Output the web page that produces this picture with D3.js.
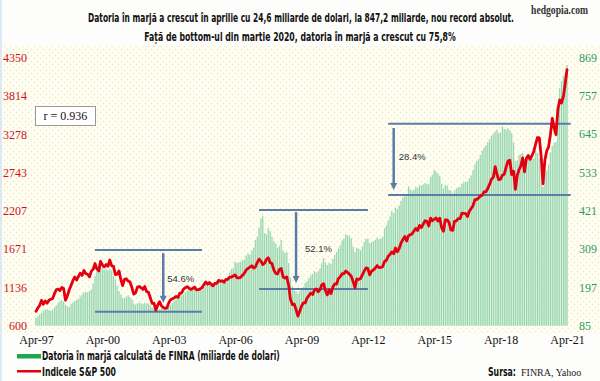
<!DOCTYPE html>
<html>
<head>
<meta charset="utf-8">
<script src="https://cdn.jsdelivr.net/npm/d3@7"></script>
<style>
  body { margin: 0; background: #fff; }
  svg { display: block; }
</style>
</head>
<body>
<svg id="chart" width="600" height="381"></svg>
<script>
// margin debt, billions $, monthly from Apr-97 to Apr-21 (one row per year)
const marginDebt = [
  108, 112, 118, 122, 128, 132, 134, 131, 128,
  132, 138, 145, 152, 157, 160, 155, 146, 142, 140, 148, 152,
  157, 160, 163, 170, 176, 182, 184, 182, 186, 190, 208, 230,
  246, 266, 278, 258, 248, 250, 247, 252, 246, 230, 220, 202,
  186, 176, 166, 164, 170, 174, 168, 162, 150, 146, 150, 152,
  150, 148, 152, 150, 150, 146, 138, 136, 134, 130, 134, 136,
  136, 132, 135, 142, 146, 152, 158, 162, 164, 170, 174, 176,
  182, 188, 192, 192, 190, 196, 190, 188, 190, 190, 198, 206,
  206, 204, 204, 200, 206, 210, 214, 216, 220, 216, 222, 228,
  240, 250, 252, 272, 268, 270, 272, 276, 278, 290, 296, 292,
  304, 312, 336, 345, 372, 398, 405, 356, 352, 370, 362, 345,
  332, 325, 312, 318, 336, 305, 298, 300, 268, 226, 200, 188,
  186, 178, 186, 192, 198, 210, 216, 224, 232, 236, 244, 240,
  244, 252, 268, 282, 270, 262, 268, 266, 280, 292, 300, 310,
  320, 334, 340, 352, 350, 346, 340, 316, 300, 312, 310, 306,
  316, 330, 338, 340, 326, 330, 332, 336, 342, 338, 340, 345,
  370, 378, 392, 404, 420, 414, 430, 426, 436, 450, 460, 470,
  468, 492, 484, 478, 482, 492, 488, 496, 494, 498, 502, 500,
  498, 520, 526, 540, 536, 530, 522, 500, 486, 496, 494, 482,
  480, 472, 480, 486, 490, 490, 500, 504, 506, 506, 516, 524,
  540, 556, 566, 572, 584, 596, 606, 612, 622, 630, 640, 646,
  652, 658, 648, 650, 668, 660, 658, 662, 656, 648, 620, 566,
  568, 584, 586, 590, 572, 580, 578, 574, 572, 574, 596, 590,
  574, 556, 490, 532, 538, 556, 592, 610, 620, 622, 726, 780,
  800, 814, 823, 847
];

// S&P 500 month-end close, same months
const sp500 = [
  801, 848, 885, 954, 899, 947, 915, 955, 970,
  980, 1049, 1102, 1112, 1091, 1134, 1121, 957, 1017, 1099, 1164, 1229,
  1280, 1238, 1286, 1335, 1302, 1373, 1329, 1320, 1283, 1363, 1389, 1469,
  1394, 1366, 1499, 1452, 1421, 1455, 1431, 1518, 1437, 1429, 1315, 1320,
  1366, 1240, 1160, 1249, 1256, 1224, 1211, 1134, 1041, 1060, 1139, 1148,
  1130, 1107, 1147, 1077, 1067, 990, 912, 916, 815, 886, 936, 880,
  856, 841, 848, 917, 964, 975, 990, 1008, 996, 1051, 1058, 1112,
  1131, 1145, 1126, 1107, 1121, 1141, 1102, 1104, 1115, 1130, 1174, 1212,
  1181, 1204, 1181, 1157, 1192, 1191, 1234, 1220, 1229, 1207, 1249, 1248,
  1280, 1281, 1295, 1311, 1270, 1270, 1277, 1304, 1336, 1378, 1401, 1418,
  1438, 1407, 1421, 1482, 1531, 1503, 1455, 1474, 1527, 1549, 1481, 1468,
  1379, 1331, 1323, 1386, 1400, 1280, 1267, 1283, 1166, 969, 896, 903,
  826, 735, 798, 873, 919, 919, 987, 1021, 1057, 1036, 1096, 1115,
  1074, 1104, 1169, 1187, 1089, 1031, 1102, 1049, 1141, 1183, 1181, 1258,
  1286, 1327, 1326, 1364, 1345, 1321, 1292, 1219, 1131, 1253, 1247, 1258,
  1312, 1366, 1408, 1398, 1310, 1362, 1379, 1407, 1441, 1412, 1416, 1426,
  1498, 1515, 1569, 1598, 1631, 1606, 1686, 1633, 1682, 1757, 1806, 1848,
  1783, 1859, 1872, 1884, 1924, 1960, 1931, 2003, 1972, 2018, 2068, 2059,
  1995, 2105, 2068, 2086, 2107, 2063, 2104, 1972, 1920, 2079, 2080, 2044,
  1940, 1932, 2060, 2065, 2097, 2099, 2174, 2171, 2168, 2126, 2199, 2239,
  2279, 2364, 2363, 2384, 2412, 2423, 2470, 2472, 2519, 2575, 2648, 2674,
  2824, 2714, 2641, 2648, 2705, 2718, 2816, 2902, 2914, 2712, 2760, 2507,
  2704, 2784, 2834, 2946, 2752, 2942, 2980, 2926, 2977, 3038, 3141, 3231,
  3226, 2954, 2585, 2912, 3044, 3100, 3271, 3500, 3363, 3270, 3622, 3756,
  3714, 3811, 3973, 4181
];

const leftTicks = [600, 1136, 1671, 2207, 2743, 3278, 3814, 4350];
const rightTicks = [85, 197, 309, 421, 533, 645, 757, 869];
const xTickYears = [1997, 2000, 2003, 2006, 2009, 2012, 2015, 2018, 2021];

// drawdown brackets: [start, end] month, top/bottom in margin debt $bn
const brackets = [
  { from: [1999, 11], to: [2004, 9], top: 306, bottom: 126, arrow: [2002, 12], a0: 297, a1: 152, label: '54.6%', lv: 214, dx: 4 },
  { from: [2007, 4], to: [2012, 3], top: 423, bottom: 192, arrow: [2009, 0], a0: 417, a1: 210, label: '52.1%', lv: 299, dx: 9 },
  { from: [2013, 2], to: [2021, 5], top: 675, bottom: 467, arrow: [2013, 5], a0: 663, a1: 482, label: '28.4%', lv: 568, dx: 5 }
];

const months = d3.timeMonth.range(new Date(1997, 3, 1), new Date(2021, 4, 1));
const svg = d3.select('#chart');

const x = d3.scaleTime().domain([new Date(1997, 3, 1), new Date(2021, 3, 1)]).range([36, 567]);
const yL = d3.scaleLinear().domain([600, 4350]).range([325.7, 57.5]);
const yR = d3.scaleLinear().domain([85, 869]).range([325.7, 57.5]);

// squeeze a text horizontally to a given width (anchor: start/middle/end at x)
function fitText(sel, x0, y0, width, anchor) {
  sel.attr('text-anchor', anchor);
  const w = sel.node().getComputedTextLength();
  const k = Math.min(1, width / w);
  sel.attr('transform', `translate(${x0},${y0}) scale(${k},1)`);
  return sel;
}

// background + dotted pattern
const defs = svg.append('defs');
const pat = defs.append('pattern').attr('id', 'dots').attr('width', 6).attr('height', 6)
  .attr('patternUnits', 'userSpaceOnUse');
pat.append('rect').attr('width', 6).attr('height', 6).attr('fill', '#fffff6');
pat.append('circle').attr('cx', 1.5).attr('cy', 1.5).attr('r', 0.9).attr('fill', '#f4eec4');
pat.append('circle').attr('cx', 4.5).attr('cy', 4.5).attr('r', 0.9).attr('fill', '#f4eec4');

svg.append('rect').attr('width', 600).attr('height', 381).attr('fill', '#fdfdfb');
svg.append('rect').attr('x', 0).attr('y', 46).attr('width', 600).attr('height', 288).attr('fill', 'url(#dots)');
svg.append('rect').attr('x', 0).attr('y', 0).attr('width', 2).attr('height', 381).attr('fill', '#dde9f4');

// titles
const narrow = '"Liberation Sans Narrow", "DejaVu Sans Condensed", sans-serif';
const serif = '"Liberation Serif", "Times New Roman", serif';
fitText(svg.append('text').attr('font-family', narrow)
  .attr('font-weight', 'bold').attr('font-size', 12).attr('fill', '#111')
  .text('Datoria în marjă a crescut în aprilie cu 24,6 miliarde de dolari, la 847,2 miliarde, nou record absolut.'),
  301, 22, 426, 'middle');
fitText(svg.append('text').attr('font-family', narrow)
  .attr('font-weight', 'bold').attr('font-size', 12).attr('fill', '#111')
  .text('Față de bottom-ul din martie 2020, datoria în marjă a crescut cu 75,8%'),
  300, 41, 312, 'middle');
fitText(svg.append('text').attr('font-family', serif).attr('font-weight', 'bold')
  .attr('font-size', 11.5).attr('fill', '#333').text('hedgopia.com'),
  588, 14, 57, 'end');

// margin debt bars
const step = x(months[1]) - x(months[0]);
const bars = svg.append('g');
bars.selectAll('rect.bg').data(months).enter().append('rect')
  .attr('x', (d) => x(d) - step / 2)
  .attr('y', (d, i) => yR(marginDebt[i]))
  .attr('width', step)
  .attr('height', (d, i) => yR(85) - yR(marginDebt[i]))
  .attr('fill', '#d9f1de');
bars.selectAll('rect.fg').data(months).enter().append('rect')
  .attr('x', (d) => x(d) - 0.5)
  .attr('y', (d, i) => yR(marginDebt[i]))
  .attr('width', 1)
  .attr('height', (d, i) => yR(85) - yR(marginDebt[i]))
  .attr('fill', '#95d4aa');

// brackets + arrows
const blue = '#5b7ca6';
brackets.forEach((b) => {
  const x0 = x(new Date(b.from[0], b.from[1], 1));
  const x1 = x(new Date(b.to[0], b.to[1], 1));
  [b.top, b.bottom].forEach((v) => {
    svg.append('line').attr('x1', x0).attr('x2', x1).attr('y1', yR(v)).attr('y2', yR(v))
      .attr('stroke', blue).attr('stroke-width', 2);
  });
  const ax = x(new Date(b.arrow[0], b.arrow[1], 1));
  svg.append('line').attr('x1', ax).attr('x2', ax).attr('y1', yR(b.a0)).attr('y2', yR(b.a1) - 6)
    .attr('stroke', blue).attr('stroke-width', 2.5);
  svg.append('path')
    .attr('d', `M${ax - 3.5},${yR(b.a1) - 7} L${ax + 3.5},${yR(b.a1) - 7} L${ax},${yR(b.a1)} Z`)
    .attr('fill', blue);
  svg.append('text').attr('x', ax + b.dx).attr('y', yR(b.lv))
    .attr('font-family', '"Liberation Sans", Arial, sans-serif').attr('font-size', 9.5)
    .attr('fill', '#333').text(b.label);
});

// S&P line
const line = d3.line().x((d) => x(d)).y((d, i) => yL(sp500[i])).curve(d3.curveLinear);
svg.append('path').datum(months).attr('d', line)
  .attr('fill', 'none').attr('stroke', '#e4000f').attr('stroke-width', 2.8)
  .attr('stroke-linejoin', 'round').attr('stroke-linecap', 'round');

// axes
const gl = svg.append('g').attr('transform', 'translate(27,0)')
  .call(d3.axisLeft(yL).tickValues(leftTicks).tickSize(0).tickPadding(0).tickFormat(d3.format('d')));
gl.select('.domain').remove();
gl.selectAll('text').attr('font-family', serif).attr('font-size', 12).attr('fill', '#d0101e');

const gr = svg.append('g').attr('transform', 'translate(579,0)')
  .call(d3.axisRight(yR).tickValues(rightTicks).tickSize(0).tickPadding(0).tickFormat(d3.format('d')));
gr.select('.domain').remove();
gr.selectAll('text').attr('font-family', serif).attr('font-size', 12).attr('fill', '#2e9a5c');

const gx = svg.append('g').attr('transform', 'translate(0,335)')
  .call(d3.axisBottom(x).tickValues(xTickYears.map((yv) => new Date(yv, 3, 1)))
    .tickSize(0).tickPadding(0).tickFormat(d3.timeFormat('Apr-%y')));
gx.select('.domain').remove();
gx.selectAll('text').attr('font-family', serif).attr('font-size', 12).attr('fill', '#111');

// r box
svg.append('rect').attr('x', 35.5).attr('y', 106.5).attr('width', 60).attr('height', 19)
  .attr('fill', '#fff').attr('stroke', '#9a9a9a');
svg.append('text').attr('x', 65.5).attr('y', 120).attr('text-anchor', 'middle')
  .attr('font-family', serif).attr('font-size', 12).attr('fill', '#111').text('r = 0.936');

// legend
svg.append('rect').attr('x', 17).attr('y', 354).attr('width', 24).attr('height', 4.5).attr('fill', '#1fa64e');
fitText(svg.append('text').attr('font-family', narrow).attr('font-weight', 'bold')
  .attr('font-size', 12).attr('fill', '#111')
  .text('Datoria în marjă calculată de FINRA (miliarde de dolari)'), 42, 360, 238, 'start');
svg.append('rect').attr('x', 17).attr('y', 370).attr('width', 24).attr('height', 2.5).attr('fill', '#e4000f');
fitText(svg.append('text').attr('font-family', narrow).attr('font-weight', 'bold')
  .attr('font-size', 12).attr('fill', '#111').text('Indicele S&P 500'), 42, 376, 74, 'start');
fitText(svg.append('text').attr('font-family', narrow).attr('font-weight', 'bold')
  .attr('font-size', 11.5).attr('fill', '#111').text('Sursa:'), 488, 376, 28, 'start');
fitText(svg.append('text').attr('font-family', serif)
  .attr('font-size', 10).attr('fill', '#222').text('FINRA, Yahoo'), 521, 376, 63, 'start');
</script>
</body>
</html>
